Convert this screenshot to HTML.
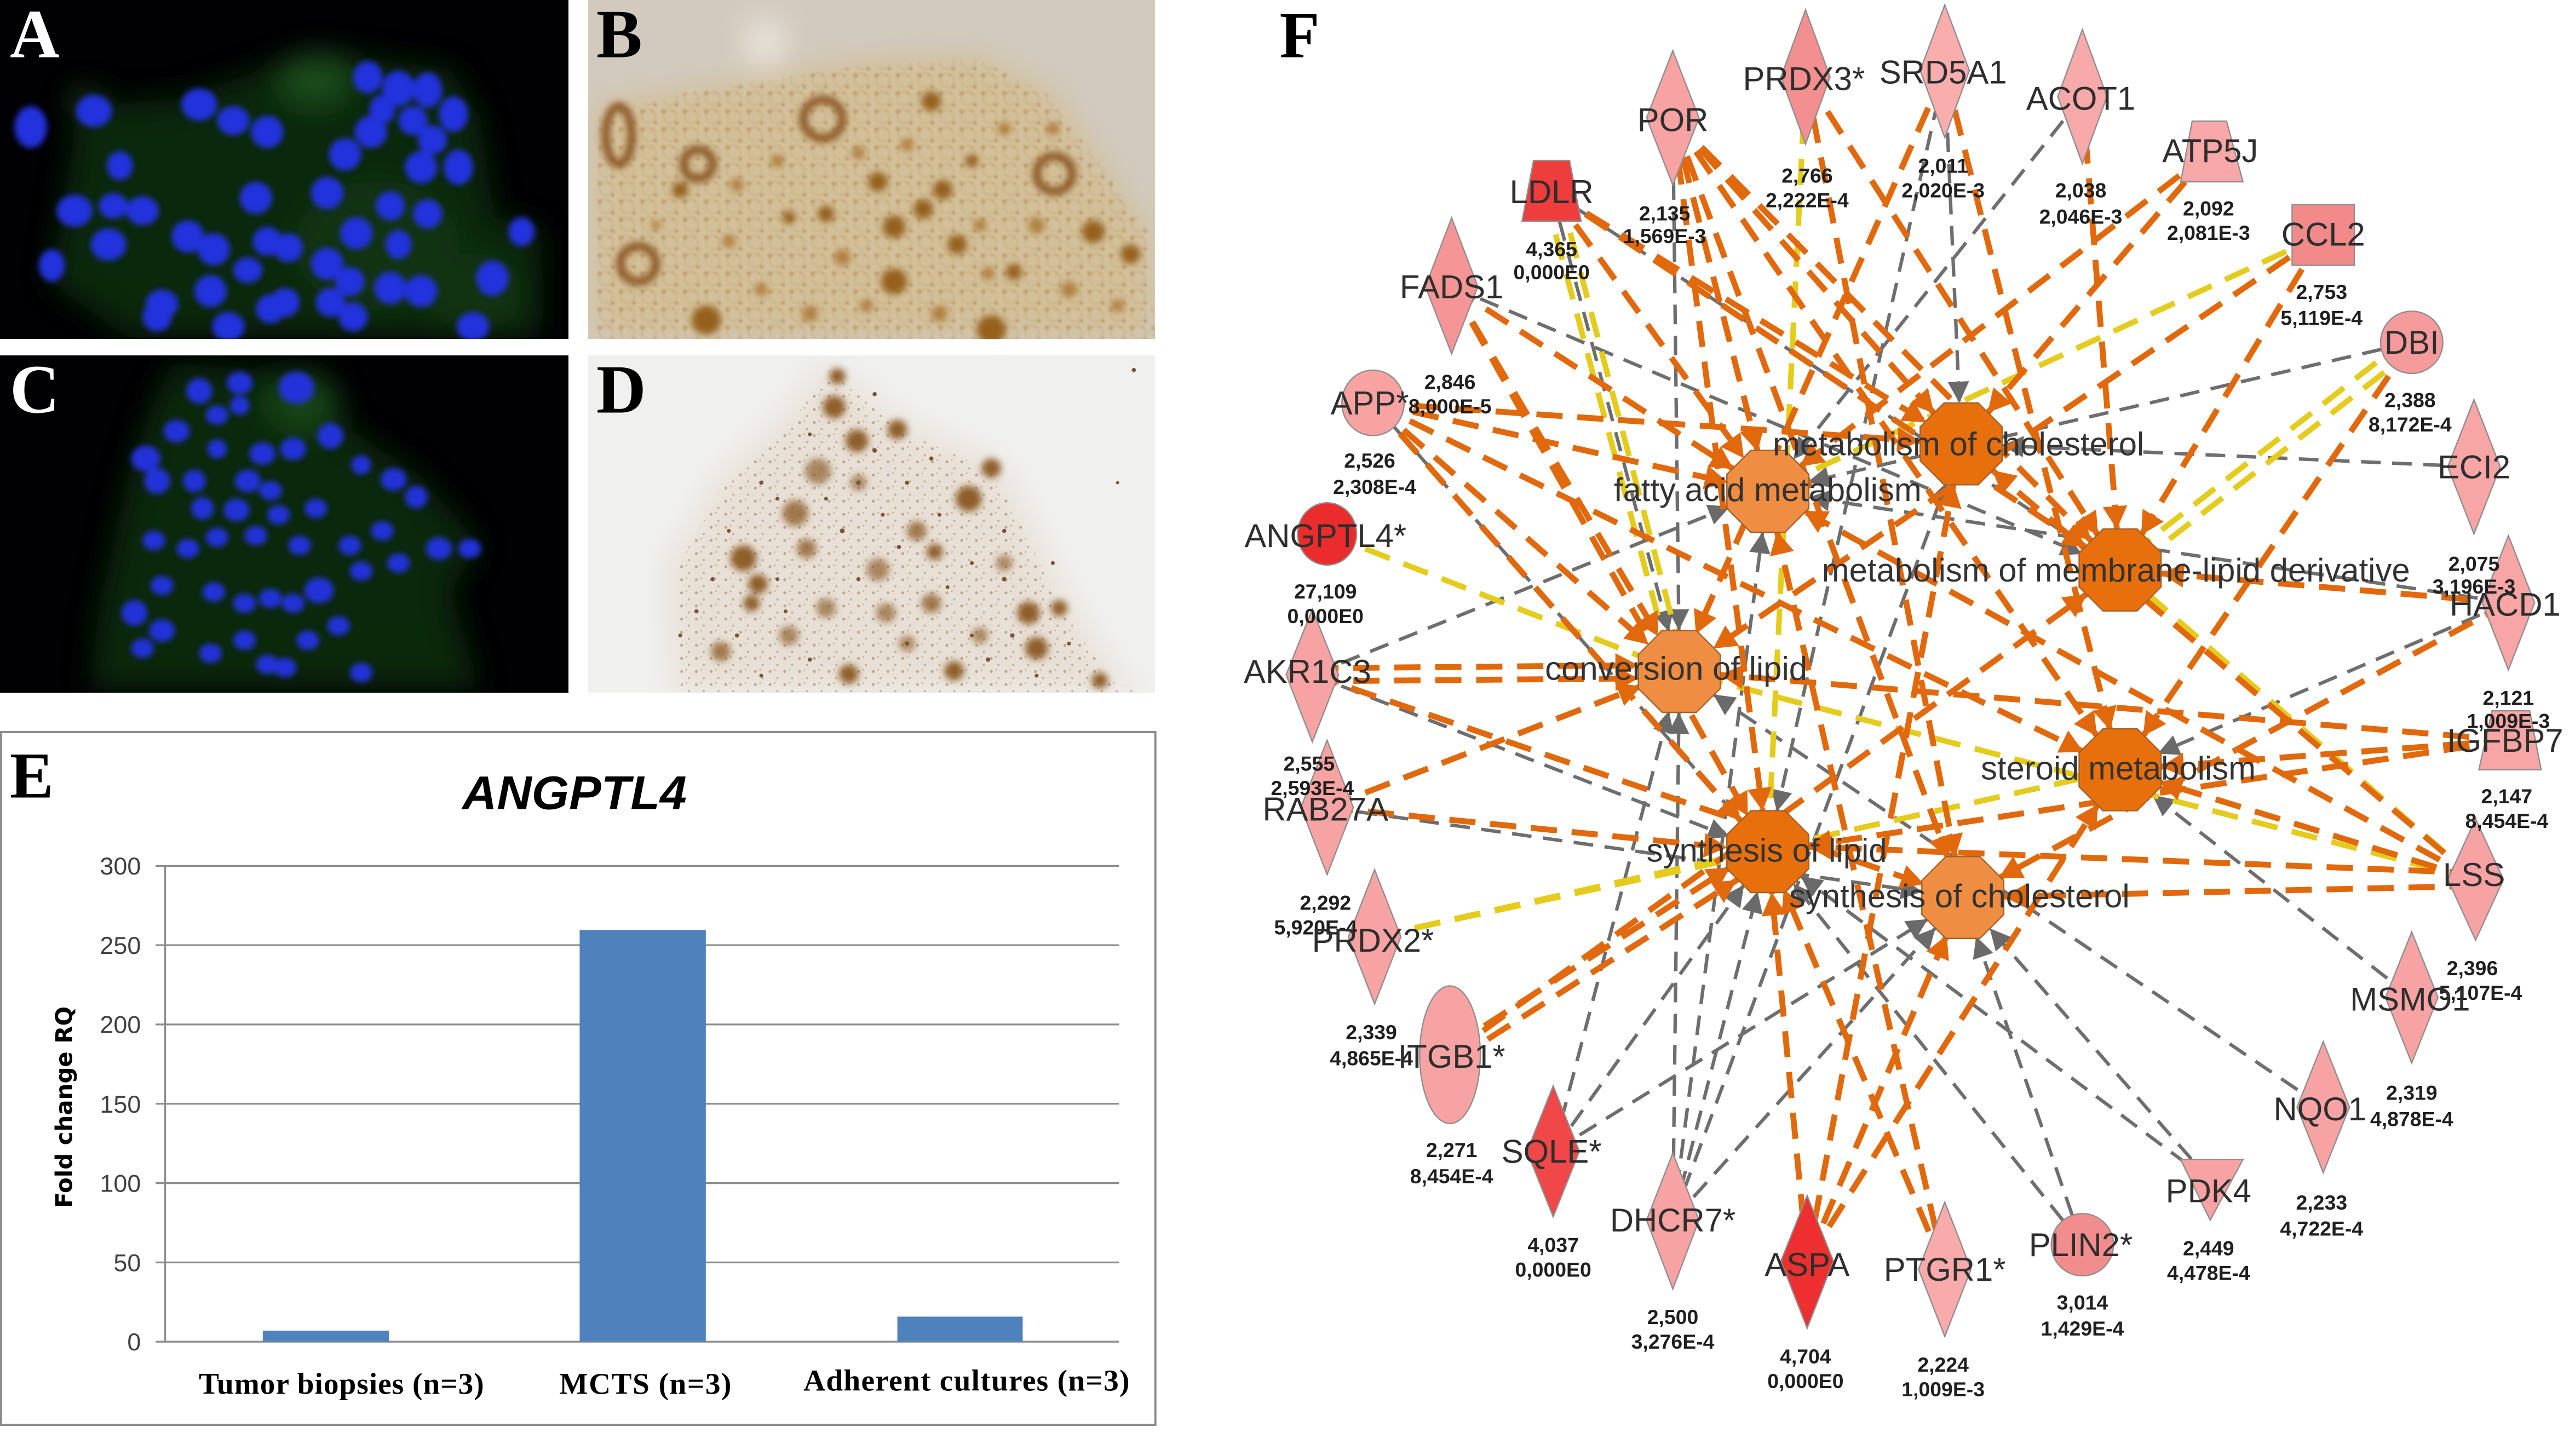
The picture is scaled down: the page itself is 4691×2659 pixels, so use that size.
<!DOCTYPE html>
<html><head><meta charset="utf-8"><style>
html,body{margin:0;padding:0;background:#fff;}
svg{display:block;}
</style></head><body>
<svg xmlns="http://www.w3.org/2000/svg" width="4691" height="2659" viewBox="0 0 1568 889" preserveAspectRatio="none">
<defs>
<clipPath id="cA"><rect x="0" y="0" width="347" height="207"/></clipPath>
<clipPath id="cB"><rect x="359" y="0" width="346" height="207"/></clipPath>
<clipPath id="cC"><rect x="0" y="217" width="347" height="206"/></clipPath>
<clipPath id="cD"><rect x="359" y="217" width="346" height="206"/></clipPath>
<filter id="bl" x="-20%" y="-20%" width="140%" height="140%"><feGaussianBlur stdDeviation="1.8"/></filter>
<filter id="bl2" x="-20%" y="-20%" width="140%" height="140%"><feGaussianBlur stdDeviation="2.2"/></filter>
<filter id="bl05" x="-20%" y="-20%" width="140%" height="140%"><feGaussianBlur stdDeviation="0.6"/></filter>
<filter id="hz" filterUnits="userSpaceOnUse" x="-50" y="-50" width="820" height="530"><feGaussianBlur stdDeviation="9"/></filter>
<pattern id="pB" width="13" height="11" patternUnits="userSpaceOnUse">
<circle cx="6" cy="5" r="4.2" fill="none" stroke="#bfa06a" stroke-width="0.9" opacity="0.5"/>
<circle cx="2" cy="2" r="1.4" fill="#a87838" opacity="0.55"/>
<circle cx="10" cy="9" r="1.1" fill="#96642a" opacity="0.5"/>
<circle cx="8" cy="2" r="0.8" fill="#b38a48" opacity="0.5"/>
</pattern>
<pattern id="pD" width="9" height="8" patternUnits="userSpaceOnUse">
<circle cx="2" cy="2" r="0.9" fill="#7a5530"/>
<circle cx="6.5" cy="6" r="0.7" fill="#8a6540"/>
<circle cx="5" cy="1" r="0.5" fill="#8a6540"/>
</pattern>
<marker id="ao" markerUnits="userSpaceOnUse" markerWidth="60" markerHeight="30" viewBox="-5 -15 60 30" refX="39" refY="0" orient="auto" overflow="visible"><path d="M0,-7.5 L14,0 L0,7.5 z" fill="#e2680c"/></marker>
<marker id="ag" markerUnits="userSpaceOnUse" markerWidth="60" markerHeight="30" viewBox="-5 -15 60 30" refX="38" refY="0" orient="auto" overflow="visible"><path d="M0,-6.5 L13,0 L0,6.5 z" fill="#6a6a6a"/></marker>
<polygon id="oct" points="10.4,-25 25,-10.4 25,10.4 10.4,25 -10.4,25 -25,10.4 -25,-10.4 -10.4,-25" stroke="#a0602a" stroke-width="0.8"/>
</defs>

<!-- ============ Panel A ============ -->
<g clip-path="url(#cA)">
<rect x="0" y="0" width="347" height="207" fill="#010103"/>
<g filter="url(#hz)" opacity="0.8">
<polygon points="40,118 48,65 110,60 168,40 197,32 275,42 293,72 302,133 330,139 330,206 78,206 30,172" fill="#11300f"/>
<ellipse cx="192" cy="48" rx="22" ry="16" fill="#245f22"/>
<ellipse cx="52" cy="62" rx="10" ry="8" fill="#1a4a1a"/>
<ellipse cx="230" cy="150" rx="50" ry="40" fill="#183f17"/>
<ellipse cx="290" cy="180" rx="30" ry="25" fill="#183f17"/>
</g>
<g transform="scale(0.9886 0.9823)" fill="#2030dc" filter="url(#bl)">
<ellipse cx="19" cy="79" rx="10" ry="13"/><ellipse cx="58" cy="69" rx="11" ry="10"/><ellipse cx="123" cy="65" rx="11" ry="10"/><ellipse cx="144" cy="75" rx="10" ry="9"/><ellipse cx="165" cy="82" rx="10" ry="10"/><ellipse cx="74" cy="103" rx="8" ry="9"/><ellipse cx="46" cy="131" rx="11" ry="10"/><ellipse cx="70" cy="128" rx="9" ry="8"/><ellipse cx="67" cy="152" rx="11" ry="10"/><ellipse cx="88" cy="131" rx="10" ry="9"/><ellipse cx="116" cy="147" rx="10" ry="10"/><ellipse cx="132" cy="155" rx="10" ry="10"/><ellipse cx="158" cy="123" rx="10" ry="10"/><ellipse cx="165" cy="150" rx="9" ry="9"/><ellipse cx="178" cy="154" rx="9" ry="9"/><ellipse cx="153" cy="168" rx="9" ry="8"/><ellipse cx="130" cy="181" rx="10" ry="10"/><ellipse cx="100" cy="189" rx="10" ry="9"/><ellipse cx="167" cy="192" rx="9" ry="9"/><ellipse cx="176" cy="188" rx="9" ry="9"/><ellipse cx="202" cy="164" rx="10" ry="10"/><ellipse cx="216" cy="175" rx="9" ry="9"/><ellipse cx="204" cy="188" rx="9" ry="9"/><ellipse cx="220" cy="145" rx="10" ry="10"/><ellipse cx="202" cy="120" rx="10" ry="10"/><ellipse cx="213" cy="96" rx="10" ry="10"/><ellipse cx="229" cy="82" rx="10" ry="10"/><ellipse cx="246" cy="55" rx="10" ry="11"/><ellipse cx="264" cy="56" rx="9" ry="11"/><ellipse cx="280" cy="71" rx="9" ry="11"/><ellipse cx="255" cy="75" rx="9" ry="9"/><ellipse cx="267" cy="87" rx="9" ry="9"/><ellipse cx="227" cy="48" rx="9" ry="10"/><ellipse cx="236" cy="68" rx="8" ry="9"/><ellipse cx="260" cy="104" rx="10" ry="10"/><ellipse cx="283" cy="104" rx="9" ry="11"/><ellipse cx="241" cy="128" rx="9" ry="9"/><ellipse cx="264" cy="133" rx="9" ry="9"/><ellipse cx="241" cy="179" rx="10" ry="10"/><ellipse cx="260" cy="181" rx="10" ry="10"/><ellipse cx="304" cy="173" rx="10" ry="11"/><ellipse cx="322" cy="144" rx="8" ry="9"/><ellipse cx="292" cy="203" rx="10" ry="9"/><ellipse cx="32" cy="165" rx="8" ry="10"/><ellipse cx="141" cy="203" rx="10" ry="9"/><ellipse cx="218" cy="197" rx="9" ry="9"/><ellipse cx="97" cy="197" rx="9" ry="9"/><ellipse cx="246" cy="152" rx="8" ry="9"/>
</g>
</g>
<text x="6" y="35" font-family="Liberation Serif" font-weight="bold" font-size="42" fill="#fff">A</text>

<!-- ============ Panel B ============ -->
<g clip-path="url(#cB)">
<rect x="359" y="0" width="346" height="207" fill="#d2cabf"/>
<g filter="url(#hz)">
<polygon points="362,64 412,55 527,36 596,33 642,55 701,139 705,206 362,206" fill="#d3c09a"/>
<ellipse cx="467" cy="26" rx="12" ry="15" fill="#ebe5dc"/>
</g>
<polygon points="366,70 412,58 527,40 596,36 640,58 700,140 705,207 362,207" fill="url(#pB)" filter="url(#bl05)" opacity="0.8"/>
<g transform="scale(0.9886 0.9823)" filter="url(#bl2)">
<g fill="none" stroke="#8a5420" stroke-width="5">
<circle cx="508" cy="74" r="12"/><circle cx="394" cy="164" r="11"/><ellipse cx="382" cy="84" rx="8" ry="18"/><circle cx="431" cy="102" r="9"/><circle cx="651" cy="108" r="11"/>
</g>
<g fill="#95601f">
<circle cx="420" cy="118" r="5"/><circle cx="575" cy="63" r="6"/><circle cx="582" cy="118" r="6"/><circle cx="552" cy="141" r="7"/><circle cx="552" cy="175" r="8"/><circle cx="591" cy="152" r="6"/><circle cx="675" cy="144" r="7"/><circle cx="698" cy="158" r="6"/><circle cx="436" cy="199" r="9"/><circle cx="612" cy="205" r="9"/><circle cx="542" cy="113" r="6"/><circle cx="510" cy="133" r="5"/><circle cx="626" cy="169" r="5"/><circle cx="487" cy="135" r="4"/><circle cx="570" cy="130" r="6"/><circle cx="600" cy="100" r="4"/>
</g>
<g fill="#b08040">
<circle cx="450" cy="150" r="4"/><circle cx="470" cy="180" r="4"/><circle cx="520" cy="160" r="5"/><circle cx="530" cy="95" r="4"/><circle cx="560" cy="90" r="4"/><circle cx="620" cy="80" r="4"/><circle cx="640" cy="140" r="5"/><circle cx="660" cy="180" r="5"/><circle cx="500" cy="195" r="5"/><circle cx="580" cy="195" r="5"/><circle cx="690" cy="190" r="4"/><circle cx="455" cy="115" r="4"/><circle cx="605" cy="140" r="4"/><circle cx="535" cy="190" r="4"/><circle cx="405" cy="140" r="3"/><circle cx="480" cy="100" r="4"/><circle cx="610" cy="170" r="4"/><circle cx="650" cy="80" r="4"/>
</g>
</g>
</g>
<text x="364" y="35" font-family="Liberation Serif" font-weight="bold" font-size="42" fill="#000">B</text>

<!-- ============ Panel C ============ -->
<g clip-path="url(#cC)">
<rect x="0" y="217" width="347" height="206" fill="#010103"/>
<g filter="url(#hz)" opacity="0.8">
<polygon points="105,222 192,227 215,263 257,291 293,333 275,360 293,421 55,421 60,374 78,291 92,249" fill="#10300f"/>
<ellipse cx="185" cy="245" rx="22" ry="18" fill="#1d561d"/>
</g>
<g transform="scale(0.9886 0.9823)" fill="#2030d8" filter="url(#bl)">
<ellipse cx="123" cy="243" rx="8" ry="8"/><ellipse cx="148" cy="238" rx="8" ry="7"/><ellipse cx="183" cy="241" rx="11" ry="10"/><ellipse cx="109" cy="268" rx="8" ry="7"/><ellipse cx="134" cy="258" rx="7" ry="6"/><ellipse cx="148" cy="252" rx="6" ry="6"/><ellipse cx="204" cy="271" rx="8" ry="8"/><ellipse cx="90" cy="285" rx="9" ry="8"/><ellipse cx="97" cy="299" rx="8" ry="8"/><ellipse cx="120" cy="299" rx="7" ry="7"/><ellipse cx="134" cy="279" rx="6" ry="6"/><ellipse cx="162" cy="282" rx="8" ry="7"/><ellipse cx="181" cy="279" rx="8" ry="7"/><ellipse cx="153" cy="299" rx="8" ry="7"/><ellipse cx="167" cy="305" rx="7" ry="6"/><ellipse cx="125" cy="316" rx="7" ry="7"/><ellipse cx="146" cy="317" rx="8" ry="7"/><ellipse cx="172" cy="320" rx="7" ry="6"/><ellipse cx="195" cy="316" rx="7" ry="6"/><ellipse cx="223" cy="289" rx="6" ry="6"/><ellipse cx="243" cy="298" rx="8" ry="7"/><ellipse cx="257" cy="309" rx="7" ry="7"/><ellipse cx="95" cy="336" rx="7" ry="6"/><ellipse cx="116" cy="341" rx="7" ry="6"/><ellipse cx="134" cy="334" rx="7" ry="6"/><ellipse cx="158" cy="333" rx="7" ry="6"/><ellipse cx="185" cy="339" rx="7" ry="6"/><ellipse cx="216" cy="339" rx="7" ry="6"/><ellipse cx="236" cy="330" rx="7" ry="6"/><ellipse cx="271" cy="341" rx="8" ry="7"/><ellipse cx="290" cy="341" rx="7" ry="6"/><ellipse cx="100" cy="364" rx="7" ry="6"/><ellipse cx="132" cy="368" rx="7" ry="6"/><ellipse cx="151" cy="375" rx="7" ry="6"/><ellipse cx="167" cy="372" rx="7" ry="6"/><ellipse cx="181" cy="375" rx="7" ry="6"/><ellipse cx="197" cy="367" rx="9" ry="8"/><ellipse cx="223" cy="355" rx="7" ry="6"/><ellipse cx="246" cy="350" rx="7" ry="6"/><ellipse cx="83" cy="381" rx="8" ry="8"/><ellipse cx="100" cy="392" rx="8" ry="7"/><ellipse cx="130" cy="406" rx="7" ry="6"/><ellipse cx="151" cy="398" rx="7" ry="6"/><ellipse cx="165" cy="413" rx="7" ry="6"/><ellipse cx="190" cy="398" rx="7" ry="6"/><ellipse cx="209" cy="389" rx="7" ry="6"/><ellipse cx="223" cy="418" rx="7" ry="6"/><ellipse cx="176" cy="415" rx="7" ry="6"/><ellipse cx="88" cy="403" rx="7" ry="6"/>
</g>
</g>
<text x="6" y="252" font-family="Liberation Serif" font-weight="bold" font-size="42" fill="#fff">C</text>

<!-- ============ Panel D ============ -->
<g clip-path="url(#cD)">
<rect x="359" y="217" width="346" height="206" fill="#f0f0ef"/>
<g filter="url(#hz)">
<polygon points="504,222 550,258 609,283 628,319 651,366 683,416 705,423 412,423 408,346 440,291 477,258" fill="#e8e0d6"/>
</g>
<polygon points="506,226 548,262 606,288 624,322 646,368 678,416 700,423 416,423 412,348 444,294 480,262" fill="url(#pD)" opacity="0.4"/>
<g transform="scale(0.9886 0.9823)" filter="url(#bl2)" fill="#8f5f2c">
<circle cx="517" cy="234" r="5"/><circle cx="515" cy="253" r="7"/><circle cx="529" cy="274" r="7"/><circle cx="554" cy="267" r="6"/><circle cx="505" cy="293" r="8" opacity="0.7"/><circle cx="491" cy="319" r="8" opacity="0.8"/><circle cx="598" cy="310" r="8"/><circle cx="612" cy="291" r="6"/><circle cx="459" cy="347" r="8"/><circle cx="468" cy="363" r="6"/><circle cx="498" cy="341" r="6" opacity="0.8"/><circle cx="542" cy="354" r="7" opacity="0.7"/><circle cx="566" cy="330" r="6" opacity="0.8"/><circle cx="577" cy="343" r="5"/><circle cx="635" cy="381" r="7"/><circle cx="640" cy="403" r="7"/><circle cx="589" cy="417" r="6"/><circle cx="575" cy="375" r="6" opacity="0.8"/><circle cx="547" cy="381" r="6" opacity="0.7"/><circle cx="487" cy="395" r="6" opacity="0.7"/><circle cx="445" cy="405" r="6" opacity="0.8"/><circle cx="524" cy="419" r="6"/><circle cx="679" cy="423" r="5"/><circle cx="654" cy="378" r="5"/><circle cx="510" cy="378" r="6" opacity="0.7"/><circle cx="464" cy="375" r="5"/><circle cx="530" cy="300" r="5" opacity="0.7"/><circle cx="620" cy="350" r="5" opacity="0.7"/><circle cx="560" cy="400" r="5" opacity="0.7"/><circle cx="605" cy="395" r="5" opacity="0.7"/>
</g>
<g transform="scale(0.9886 0.9823)" fill="#7a5530">
<circle cx="470" cy="300" r="1.3"/><circle cx="480" cy="310" r="1.2"/><circle cx="530" cy="300" r="1.4"/><circle cx="545" cy="320" r="1.2"/><circle cx="560" cy="300" r="1.3"/><circle cx="580" cy="320" r="1.2"/><circle cx="620" cy="330" r="1.3"/><circle cx="600" cy="350" r="1.2"/><circle cx="620" cy="360" r="1.4"/><circle cx="450" cy="330" r="1.2"/><circle cx="440" cy="360" r="1.3"/><circle cx="480" cy="360" r="1.2"/><circle cx="520" cy="330" r="1.5"/><circle cx="530" cy="360" r="1.3"/><circle cx="560" cy="400" r="1.3"/><circle cx="600" cy="395" r="1.2"/><circle cx="610" cy="410" r="1.4"/><circle cx="660" cy="400" r="1.2"/><circle cx="500" cy="410" r="1.3"/><circle cx="470" cy="420" r="1.2"/><circle cx="430" cy="380" r="1.3"/><circle cx="420" cy="395" r="1.2"/><circle cx="540" cy="245" r="1.3"/><circle cx="500" cy="270" r="1.2"/><circle cx="575" cy="285" r="1.3"/><circle cx="650" cy="350" r="1.2"/><circle cx="700" cy="230" r="1.3"/><circle cx="690" cy="300" r="1"/><circle cx="540" cy="280" r="1.4"/><circle cx="510" cy="310" r="1.2"/><circle cx="555" cy="340" r="1.3"/><circle cx="585" cy="365" r="1.2"/><circle cx="625" cy="395" r="1.4"/><circle cx="640" cy="420" r="1.2"/><circle cx="455" cy="395" r="1.3"/><circle cx="485" cy="380" r="1.2"/>
</g>
</g>
<text x="364" y="252" font-family="Liberation Serif" font-weight="bold" font-size="42" fill="#000">D</text>

<!-- ============ Panel E ============ -->
<rect x="0.6" y="447" width="704.6" height="423" fill="#fff" stroke="#8a8a8a" stroke-width="1.3"/>
<text x="6" y="487" font-family="Liberation Serif" font-weight="bold" font-size="40" fill="#000">E</text>
<text x="350.6" y="494" text-anchor="middle" font-family="Liberation Sans" font-style="italic" font-weight="bold" font-size="29" textLength="137" lengthAdjust="spacingAndGlyphs" fill="#000">ANGPTL4</text>
<g stroke="#8c8c8c" stroke-width="1.1">
<line x1="95" y1="528.7" x2="683" y2="528.7"/>
<line x1="95" y1="577.1" x2="683" y2="577.1"/>
<line x1="95" y1="625.5" x2="683" y2="625.5"/>
<line x1="95" y1="673.95" x2="683" y2="673.95"/>
<line x1="95" y1="722.4" x2="683" y2="722.4"/>
<line x1="95" y1="770.8" x2="683" y2="770.8"/>
<line x1="95" y1="819.2" x2="683" y2="819.2"/>
<line x1="100.8" y1="528.7" x2="100.8" y2="819.2"/>
</g>
<g fill="#4f81bd">
<rect x="160.4" y="812.5" width="77" height="6.7"/>
<rect x="353.8" y="567.8" width="77" height="251.4"/>
<rect x="547.7" y="803.9" width="76.5" height="15.3"/>
</g>
<g font-family="Liberation Sans" font-size="15" fill="#404040" text-anchor="end">
<text x="86" y="534">300</text>
<text x="86" y="582.4">250</text>
<text x="86" y="630.8">200</text>
<text x="86" y="679.3">150</text>
<text x="86" y="727.7">100</text>
<text x="86" y="776.1">50</text>
<text x="86" y="824.5">0</text>
</g>
<text transform="translate(44 676) rotate(-90)" text-anchor="middle" font-family="DejaVu Sans" font-weight="bold" font-size="14" textLength="123" lengthAdjust="spacingAndGlyphs" fill="#000">Fold change RQ</text>
<g font-family="Liberation Serif" font-weight="bold" font-size="18.5" fill="#000" lengthAdjust="spacingAndGlyphs">
<text x="121.4" y="851" textLength="174">Tumor biopsies (n=3)</text>
<text x="341.4" y="851" textLength="105">MCTS (n=3)</text>
<text x="490.4" y="849" textLength="199">Adherent cultures (n=3)</text>
</g>

<!-- ============ Panel F ============ -->
<text x="781" y="35" font-family="Liberation Serif" font-weight="bold" font-size="40" fill="#000">F</text>

<!-- gray edges -->
<g stroke="#6e6e6e" stroke-width="2.1" stroke-dasharray="12 7" fill="none" marker-end="url(#ag)">
<line x1="1021" y1="72" x2="1025" y2="410"/>
<line x1="947" y1="117" x2="1025" y2="410"/>
<line x1="947" y1="117" x2="1294" y2="348"/>
<line x1="886" y1="175" x2="1294" y2="348"/>
<line x1="838" y1="246" x2="1079" y2="520"/>
<line x1="801" y1="412" x2="1079" y2="300"/>
<line x1="801" y1="412" x2="1079" y2="520"/>
<line x1="810" y1="493" x2="1198" y2="548"/>
<line x1="948" y1="703" x2="1079" y2="520"/>
<line x1="948" y1="703" x2="1198" y2="548"/>
<line x1="948" y1="703" x2="1025" y2="410"/>
<line x1="1021" y1="745" x2="1079" y2="520"/>
<line x1="1021" y1="745" x2="1198" y2="548"/>
<line x1="1021" y1="745" x2="1025" y2="410"/>
<line x1="1021" y1="745" x2="1079" y2="300"/>
<line x1="1021" y1="745" x2="1197" y2="271"/>
<line x1="1271" y1="760" x2="1079" y2="520"/>
<line x1="1271" y1="760" x2="1198" y2="548"/>
<line x1="1350" y1="722" x2="1079" y2="520"/>
<line x1="1350" y1="722" x2="1198" y2="548"/>
<line x1="1418" y1="676" x2="1025" y2="410"/>
<line x1="1472" y1="609" x2="1294" y2="470"/>
<line x1="1531" y1="368" x2="1294" y2="470"/>
<line x1="1510" y1="285" x2="1197" y2="271"/>
<line x1="1472" y1="209" x2="1079" y2="300"/>
<line x1="1271" y1="59" x2="1079" y2="300"/>
<line x1="1187" y1="43" x2="1197" y2="271"/>
<line x1="1187" y1="43" x2="1079" y2="520"/>
<line x1="1531" y1="368" x2="1079" y2="300"/>
</g>
<!-- yellow edges -->
<g stroke="#e4cb1c" stroke-width="3.4" stroke-dasharray="16 9" fill="none">
<line x1="943" y1="119" x2="1021" y2="410"/>
<line x1="952" y1="118" x2="1029" y2="410"/>
<line x1="810" y1="326" x2="1025" y2="410"/>
<line x1="839" y1="572" x2="1079" y2="520"/>
<line x1="839" y1="572" x2="1294" y2="470"/>
<line x1="1511" y1="537" x2="1025" y2="410"/>
<line x1="1511" y1="537" x2="1294" y2="348"/>
<line x1="1470" y1="206" x2="1292" y2="345"/>
<line x1="1475" y1="212" x2="1296" y2="351"/>
<line x1="1418" y1="143" x2="1079" y2="300"/>
<line x1="1102" y1="47" x2="1079" y2="520"/>
</g>
<!-- orange edges -->
<g stroke="#e2680c" stroke-width="3.6" stroke-dasharray="16 9" fill="none" marker-end="url(#ao)">
<line x1="1021" y1="72" x2="1079" y2="300"/>
<line x1="1021" y1="72" x2="1197" y2="271"/>
<line x1="1021" y1="72" x2="1294" y2="348"/>
<line x1="1021" y1="72" x2="1079" y2="520"/>
<line x1="1021" y1="72" x2="1198" y2="548"/>
<line x1="1021" y1="72" x2="1294" y2="470"/>
<line x1="947" y1="117" x2="1197" y2="271"/>
<line x1="947" y1="117" x2="1294" y2="348"/>
<line x1="947" y1="117" x2="1079" y2="300"/>
<line x1="886" y1="175" x2="1079" y2="300"/>
<line x1="886" y1="175" x2="1025" y2="410"/>
<line x1="886" y1="175" x2="1079" y2="520"/>
<line x1="838" y1="246" x2="1079" y2="300"/>
<line x1="838" y1="246" x2="1197" y2="271"/>
<line x1="838" y1="246" x2="1025" y2="410"/>
<line x1="838" y1="246" x2="1079" y2="520"/>
<line x1="838" y1="246" x2="1294" y2="470"/>
<line x1="801" y1="408" x2="1025" y2="406"/>
<line x1="801" y1="416" x2="1025" y2="414"/>
<line x1="801" y1="412" x2="1198" y2="548"/>
<line x1="810" y1="493" x2="1079" y2="520"/>
<line x1="810" y1="493" x2="1025" y2="410"/>
<line x1="885" y1="640" x2="1077" y2="516"/>
<line x1="887" y1="648" x2="1081" y2="524"/>
<line x1="885" y1="644" x2="1294" y2="348"/>
<line x1="1103" y1="770" x2="1079" y2="520"/>
<line x1="1103" y1="770" x2="1198" y2="548"/>
<line x1="1103" y1="770" x2="1197" y2="271"/>
<line x1="1103" y1="770" x2="1294" y2="470"/>
<line x1="1187" y1="775" x2="1079" y2="520"/>
<line x1="1187" y1="775" x2="1079" y2="300"/>
<line x1="1511" y1="533" x2="1079" y2="516"/>
<line x1="1511" y1="541" x2="1198" y2="548"/>
<line x1="1511" y1="537" x2="1294" y2="470"/>
<line x1="1511" y1="537" x2="1197" y2="271"/>
<line x1="1511" y1="537" x2="1079" y2="300"/>
<line x1="1532" y1="452" x2="1294" y2="470"/>
<line x1="1532" y1="452" x2="1079" y2="520"/>
<line x1="1532" y1="452" x2="1025" y2="410"/>
<line x1="1531" y1="368" x2="1294" y2="348"/>
<line x1="1531" y1="368" x2="1198" y2="548"/>
<line x1="1472" y1="209" x2="1294" y2="470"/>
<line x1="1418" y1="143" x2="1294" y2="348"/>
<line x1="1418" y1="143" x2="1025" y2="410"/>
<line x1="1350" y1="92" x2="1197" y2="271"/>
<line x1="1350" y1="92" x2="1079" y2="300"/>
<line x1="1271" y1="59" x2="1294" y2="348"/>
<line x1="1187" y1="43" x2="1025" y2="410"/>
<line x1="1187" y1="43" x2="1294" y2="470"/>
<line x1="1102" y1="47" x2="1294" y2="348"/>
<line x1="1102" y1="47" x2="1198" y2="548"/>
</g>

<!-- function nodes -->
<use href="#oct" x="1197" y="271" fill="#e8700c"/>
<use href="#oct" x="1079" y="300" fill="#ef8d42"/>
<use href="#oct" x="1294" y="348" fill="#e8700c"/>
<use href="#oct" x="1025" y="410" fill="#ef8d42"/>
<use href="#oct" x="1294" y="470" fill="#e8700c"/>
<use href="#oct" x="1079" y="520" fill="#e8700c"/>
<use href="#oct" x="1198" y="548" fill="#ef8d42"/>

<!-- gene shapes -->
<g stroke="#8e8e8e" stroke-width="0.8">
<polygon points="1021,31 1037,72 1021,113 1005,72" fill="#f7a3a3"/>
<polygon points="1102,6 1117,47 1102,88 1087,47" fill="#f48f8f"/>
<polygon points="1187,3 1202,43 1187,84 1172,43" fill="#f9adad"/>
<polygon points="1271,18 1286,59 1271,100 1256,59" fill="#f8a9a9"/>
<polygon points="1338,74 1359,74 1369,111 1331,111" fill="#f8a8a8"/>
<rect x="1399" y="125" width="38" height="37" fill="#f28a8a"/>
<ellipse cx="1472" cy="209" rx="19" ry="19" fill="#f59b9b"/>
<polygon points="1510,244 1526,285 1510,326 1494,285" fill="#f7a5a5"/>
<polygon points="1531,327 1547,368 1531,409 1515,368" fill="#f7a5a5"/>
<polygon points="1521,434 1544,434 1551,470 1513,470" fill="#f7a5a5"/>
<polygon points="1511,500 1528,537 1511,574 1494,537" fill="#f7a3a3"/>
<polygon points="1472,569 1488,609 1472,649 1456,609" fill="#f7a3a3"/>
<polygon points="1418,636 1434,676 1418,716 1402,676" fill="#f7a3a3"/>
<polygon points="1331,708 1369,708 1349,745" fill="#f7a3a3"/>
<ellipse cx="1271" cy="760" rx="19" ry="19" fill="#f28d8d"/>
<polygon points="1187,734 1203,775 1187,816 1171,775" fill="#f9aaaa"/>
<polygon points="1103,730 1119,770 1103,811 1087,770" fill="#ee2f2f"/>
<polygon points="1021,704 1037,745 1021,787 1005,745" fill="#f7a3a3"/>
<polygon points="948,663 964,703 948,743 932,703" fill="#f04848"/>
<ellipse cx="885" cy="644" rx="18.5" ry="42" fill="#f8a3a3"/>
<polygon points="839,531 855,572 839,613 823,572" fill="#f7a3a3"/>
<polygon points="810,452 826,493 810,534 794,493" fill="#f7a3a3"/>
<polygon points="801,372 817,412 801,453 785,412" fill="#f7a3a3"/>
<ellipse cx="810" cy="326" rx="18" ry="19" fill="#ec2c2c"/>
<ellipse cx="838" cy="246" rx="19" ry="20" fill="#f8a2a2"/>
<polygon points="886,133 902,175 886,216 870,175" fill="#f59595"/>
<polygon points="936,98 958,98 965,135 929,135" fill="#ee3d3d"/>
</g>

<!-- values -->
<g font-family="Liberation Sans" font-weight="bold" font-size="12.5" fill="#1f1f1f" text-anchor="middle">
<text x="1016" y="134.5">2,135</text><text x="1016" y="148.5">1,569E-3</text>
<text x="1103" y="111.5">2,766</text><text x="1103" y="126.5">2,222E-4</text>
<text x="1186" y="105.5">2,011</text><text x="1186" y="120.5">2,020E-3</text>
<text x="1270" y="120.5">2,038</text><text x="1270" y="136.5">2,046E-3</text>
<text x="1348" y="131.5">2,092</text><text x="1348" y="146.5">2,081E-3</text>
<text x="1417" y="182.5">2,753</text><text x="1417" y="198.5">5,119E-4</text>
<text x="1471" y="248.5">2,388</text><text x="1471" y="263.5">8,172E-4</text>
<text x="1510" y="348.5">2,075</text><text x="1510" y="362.5">3,196E-3</text>
<text x="1531" y="430.5">2,121</text><text x="1531" y="444.5">1,009E-3</text>
<text x="1530" y="490.5">2,147</text><text x="1530" y="505.5">8,454E-4</text>
<text x="1509" y="595.5">2,396</text><text x="1514" y="610.5">5,107E-4</text>
<text x="1472" y="671.5">2,319</text><text x="1472" y="687.5">4,878E-4</text>
<text x="1417" y="738.5">2,233</text><text x="1417" y="754.5">4,722E-4</text>
<text x="1348" y="766.5">2,449</text><text x="1348" y="781.5">4,478E-4</text>
<text x="1271" y="799.5">3,014</text><text x="1271" y="815.5">1,429E-4</text>
<text x="1186" y="837.5">2,224</text><text x="1186" y="852.5">1,009E-3</text>
<text x="1102" y="832.5">4,704</text><text x="1102" y="847.5">0,000E0</text>
<text x="1021" y="808.5">2,500</text><text x="1021" y="823.5">3,276E-4</text>
<text x="948" y="764.5">4,037</text><text x="948" y="779.5">0,000E0</text>
<text x="886" y="706.5">2,271</text><text x="886" y="722.5">8,454E-4</text>
<text x="837" y="634.5">2,339</text><text x="837" y="650.5">4,865E-4</text>
<text x="809" y="555.5">2,292</text><text x="803" y="570.5">5,920E-4</text>
<text x="799" y="470.5">2,555</text><text x="801" y="485.5">2,593E-4</text>
<text x="809" y="365.5">27,109</text><text x="809" y="380.5">0,000E0</text>
<text x="836" y="285.5">2,526</text><text x="839" y="301.5">2,308E-4</text>
<text x="885" y="237.5">2,846</text><text x="885" y="252.5">8,000E-5</text>
<text x="947" y="156.5">4,365</text><text x="947" y="170.5">0,000E0</text>
</g>

<!-- gene labels -->
<g font-family="Liberation Sans" font-size="20" fill="#2e2e2e" text-anchor="middle">
<text x="1021" y="80">POR</text>
<text x="947" y="124">LDLR</text>
<text x="886" y="182">FADS1</text>
<text x="836" y="253">APP*</text>
<text x="809" y="334">ANGPTL4*</text>
<text x="798" y="417">AKR1C3</text>
<text x="809" y="501">RAB27A</text>
<text x="838" y="581">PRDX2*</text>
<text x="886" y="652">ITGB1*</text>
<text x="947" y="710">SQLE*</text>
<text x="1021" y="752">DHCR7*</text>
<text x="1103" y="779">ASPA</text>
<text x="1187" y="782">PTGR1*</text>
<text x="1270" y="767">PLIN2*</text>
<text x="1348" y="734">PDK4</text>
<text x="1416" y="684">NQO1</text>
<text x="1471" y="617">MSMO1</text>
<text x="1510" y="541">LSS</text>
<text x="1529" y="459">IGFBP7</text>
<text x="1529" y="376">HACD1</text>
<text x="1510" y="292">ECI2</text>
<text x="1472" y="216">DBI</text>
<text x="1418" y="150">CCL2</text>
<text x="1349" y="99">ATP5J</text>
<text x="1270" y="67">ACOT1</text>
<text x="1186" y="51">SRD5A1</text>
<text x="1101" y="55">PRDX3*</text>
</g>

<!-- function labels -->
<g font-family="Liberation Sans" font-size="20" fill="#333">
<text x="1082" y="278">metabolism of cholesterol</text>
<text x="985" y="306">fatty acid metabolism</text>
<text x="1112" y="355">metabolism of membrane-lipid derivative</text>
<text x="943" y="415">conversion of lipid</text>
<text x="1209" y="476">steroid metabolism</text>
<text x="1005" y="526">synthesis of lipid</text>
<text x="1092" y="554">synthesis of cholesterol</text>
</g>
</svg>
</body></html>
